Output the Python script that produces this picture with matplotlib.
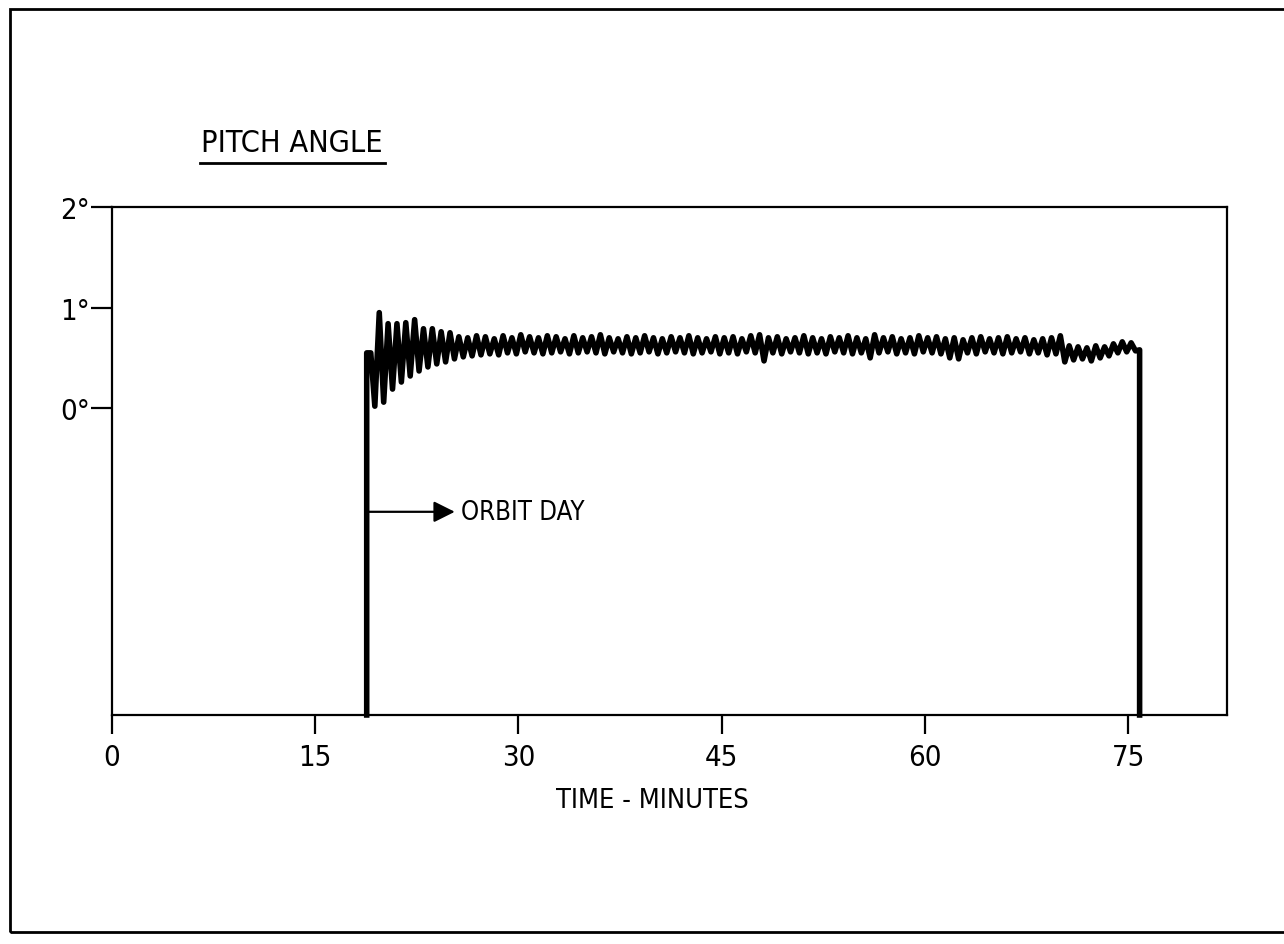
import numpy as np
import matplotlib
matplotlib.use("Agg")
import matplotlib.pyplot as plt
from matplotlib.patches import Rectangle

# ---------------- data ----------------
title_text = "PITCH ANGLE"
x_label = "TIME - MINUTES"
x_ticks = [0, 15, 30, 45, 60, 75]
x_tick_labels = ["0", "15", "30", "45", "60", "75"]
y_ticks = [0, 1, 2]
y_tick_labels = ["0°", "1°", "2°"]

orbit_day_start = 18.8      # minutes, trace leaves the bottom
orbit_day_end = 75.85       # minutes, trace returns to the bottom
night_level = -3.05         # off-scale value (bottom of chart)
onset_times = [19.1]
onset_values = [0.55]
osc_start, osc_end = 19.4, 75.55   # first trough .. last trough
end_value = 0.58

# peaks and troughs of the pitch oscillation (degrees), cycle by cycle
peaks = [0.95, 0.84, 0.84, 0.85, 0.88, 0.79, 0.79, 0.76, 0.75, 0.71,
         0.70, 0.72, 0.71, 0.69, 0.72, 0.70, 0.73, 0.71, 0.70, 0.72,
         0.71, 0.69, 0.72, 0.70, 0.71, 0.73, 0.70, 0.69, 0.71, 0.70,
         0.72, 0.70, 0.69, 0.71, 0.70, 0.72, 0.70, 0.69, 0.71, 0.70,
         0.71, 0.69, 0.72, 0.73, 0.70, 0.71, 0.69, 0.70, 0.72, 0.70,
         0.69, 0.71, 0.70, 0.72, 0.70, 0.69, 0.73, 0.70, 0.71, 0.69,
         0.70, 0.72, 0.70, 0.71, 0.69, 0.70, 0.68, 0.70, 0.71, 0.69,
         0.70, 0.71, 0.69, 0.70, 0.68, 0.69, 0.70, 0.72, 0.62, 0.61,
         0.60, 0.62, 0.61, 0.64, 0.66, 0.65]
troughs = [0.02, 0.06, 0.19, 0.26, 0.32, 0.37, 0.41, 0.44, 0.46, 0.49,
           0.51, 0.52, 0.53, 0.54, 0.53, 0.55, 0.54, 0.56, 0.55, 0.54,
           0.55, 0.56, 0.54, 0.55, 0.56, 0.55, 0.54, 0.56, 0.55, 0.54,
           0.55, 0.56, 0.54, 0.55, 0.56, 0.55, 0.54, 0.55, 0.56, 0.54,
           0.55, 0.54, 0.56, 0.55, 0.47, 0.55, 0.54, 0.56, 0.55, 0.54,
           0.55, 0.54, 0.56, 0.55, 0.54, 0.55, 0.50, 0.55, 0.56, 0.54,
           0.55, 0.54, 0.56, 0.55, 0.54, 0.50, 0.49, 0.55, 0.54, 0.56,
           0.55, 0.54, 0.55, 0.56, 0.54, 0.55, 0.53, 0.54, 0.46, 0.48,
           0.49, 0.47, 0.50, 0.52, 0.55, 0.56, 0.57]

annotation_text = "ORBIT DAY"
annotation_level = -1.03
arrow_tip = 25.3

# ---------------- build the trace ----------------
osc_values = []
for i in range(len(peaks)):
    osc_values.append(troughs[i])
    osc_values.append(peaks[i])
osc_values.append(troughs[len(peaks)])
osc_times = np.linspace(osc_start, osc_end, len(osc_values))

t = np.concatenate([[orbit_day_start, orbit_day_start], onset_times, osc_times,
                    [orbit_day_end, orbit_day_end]])
y = np.concatenate([[night_level, onset_values[0]], onset_values, osc_values,
                    [end_value, night_level]])

# ---------------- figure ----------------
W, H = 1284, 945
plt.rcParams["font.family"] = ["DejaVu Sans"]
plt.rcParams["font.stretch"] = "condensed"
fig = plt.figure(figsize=(W / 100, H / 100), dpi=100)

# outer border
fig.patches.append(Rectangle((10 / W, 1 - 933 / H), 1.2, (933 - 10) / H,
                             transform=fig.transFigure, fill=False,
                             lw=2.0, ec="black"))

ax = fig.add_axes([112 / W, 1 - 716 / H, (1227 - 112) / W, (716 - 208) / H])
ax.set_xlim(0, 82.3)
ax.set_ylim(night_level, 2)

ax.plot(t, y, color="black", lw=4.0, solid_joinstyle="round", clip_on=False)

for s in ax.spines.values():
    s.set_linewidth(1.6)

ax.set_xticks(x_ticks)
ax.set_xticklabels(x_tick_labels, fontsize=21)
ax.set_yticks(y_ticks)
ax.set_yticklabels(y_tick_labels, fontsize=21)
ax.tick_params(axis="x", direction="out", length=14, width=1.6, pad=6)
ax.tick_params(axis="y", direction="out", length=15, width=1.6, pad=1)

fig.text(652 / W, 1 - 801 / H, x_label, ha="center", va="center", fontsize=19.5)

# title with underline
fig.text(292 / W, 1 - 144 / H, title_text, ha="center", va="center", fontsize=22)
fig.add_artist(plt.Line2D([200 / W, 385 / W], [1 - 164 / H, 1 - 164 / H],
                          transform=fig.transFigure, color="black", lw=2.0))

# ORBIT DAY arrow
ax.annotate("", xy=(arrow_tip, annotation_level),
            xytext=(orbit_day_start, annotation_level),
            arrowprops=dict(arrowstyle="-|>", mutation_scale=32, lw=1.6,
                            color="black", shrinkA=0, shrinkB=0))
ax.text(arrow_tip + 0.45, annotation_level, annotation_text, ha="left",
        va="center", fontsize=18.5)

fig.savefig("out.png", dpi=100)
